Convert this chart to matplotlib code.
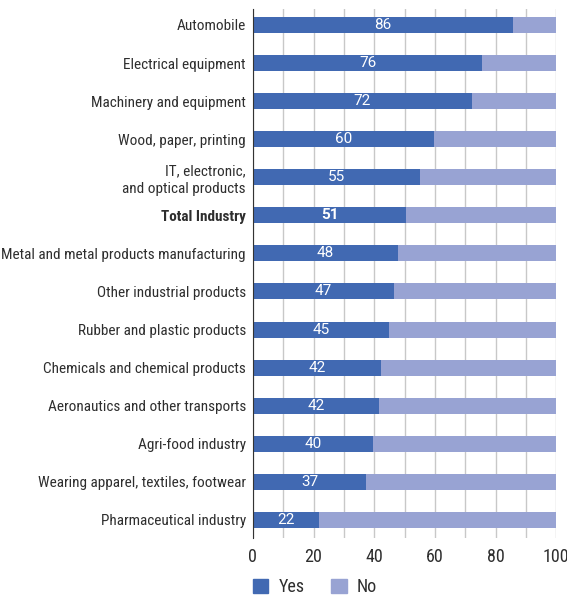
import matplotlib.pyplot as plt
import numpy as np
from matplotlib.patches import Patch

plt.rcParams["font.family"] = ["Roboto Condensed", "Archivo Narrow", "Asap Condensed", "DejaVu Sans"]

categories = [
    "Automobile",
    "Electrical equipment",
    "Machinery and equipment",
    "Wood, paper, printing",
    "IT, electronic,\nand optical products",
    "Total Industry",
    "Metal and metal products manufacturing",
    "Other industrial products",
    "Rubber and plastic products",
    "Chemicals and chemical products",
    "Aeronautics and other transports",
    "Agri-food industry",
    "Wearing apparel, textiles, footwear",
    "Pharmaceutical industry",
]
yes = [85.6, 75.6, 72.3, 59.7, 55.1, 50.6, 47.9, 46.6, 44.9, 42.2, 41.6, 39.6, 37.3, 21.8]
no = [100 - v for v in yes]
labels = [str(int(round(v))) for v in yes]

YES_C = "#4169b2"
NO_C = "#98a3d3"
TXT = "#2e2e2e"

fig = plt.figure(figsize=(5.67, 5.95), dpi=100)
ax = fig.add_axes([0.446, 0.096, 0.535, 0.889])

y = np.arange(len(categories))
h = 0.42
ax.barh(y, yes, height=h, color=YES_C, zorder=2)
ax.barh(y, no, left=yes, height=h, color=NO_C, zorder=2)

# valeurs dans la partie "Yes"
for i, (v, lab) in enumerate(zip(yes, labels)):
    bold = categories[i] == "Total Industry"
    ax.text(v / 2, i, lab, ha="center", va="center", color="white",
            fontsize=11, family=["Roboto", "DejaVu Sans"],
            fontweight="bold" if bold else "normal", zorder=3)

ax.set_yticks(y)
ax.set_yticklabels(categories, fontsize=11, color=TXT, linespacing=1.3)
for t in ax.get_yticklabels():
    if t.get_text() == "Total Industry":
        t.set_fontweight("bold")
ax.set_ylim(len(categories) - 1 + 0.47, -0.42)

ax.set_xlim(0, 100)
ax.set_xticks(range(0, 101, 20))
ax.set_xticks(range(0, 101, 10), minor=True)
ax.tick_params(axis="x", which="both", length=0, labelsize=13, colors=TXT, pad=7)
ax.tick_params(axis="y", length=0, pad=5)
ax.grid(axis="x", which="both", color="#c8c8c8", lw=1, zorder=0)

for s in ["top", "right", "bottom"]:
    ax.spines[s].set_visible(False)
ax.spines["left"].set_color("#333333")
ax.spines["left"].set_zorder(4)

handles = [Patch(color=YES_C, label="Yes"), Patch(color=NO_C, label="No")]
fig.legend(handles=handles, loc="center left", bbox_to_anchor=(253 / 567, 1 - 587 / 595), ncol=2,
           frameon=False, fontsize=13, handlelength=0.85, handleheight=0.85,
           borderpad=0, borderaxespad=0, columnspacing=1.5, handletextpad=0.55,
           labelcolor=TXT)

fig.savefig("out.png", dpi=100)
